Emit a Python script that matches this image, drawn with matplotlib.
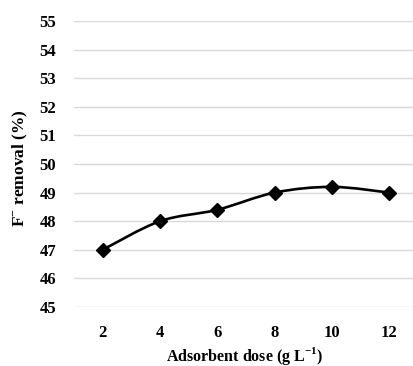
import matplotlib
matplotlib.use("Agg")
import matplotlib.pyplot as plt
import numpy as np
from matplotlib.path import Path
from matplotlib.patches import PathPatch

# data
dose = [2, 4, 6, 8, 10, 12]
removal = [47.0, 48.0, 48.4, 49.0, 49.2, 49.0]
y_ticks = list(range(45, 56))

plt.rcParams["font.family"] = ["Liberation Serif", "DejaVu Serif"]
plt.rcParams["mathtext.fontset"] = "custom"
plt.rcParams["mathtext.rm"] = "Liberation Serif:bold"
plt.rcParams["mathtext.bf"] = "Liberation Serif:bold"


def smooth_path(xs, ys, t=1 / 6):
    """Excel-style smoothed line: cubic Bezier through every point."""
    pts = np.column_stack([xs, ys]).astype(float)
    verts = [pts[0]]
    codes = [Path.MOVETO]
    n = len(pts)
    for i in range(n - 1):
        p0 = pts[max(i - 1, 0)]
        p1 = pts[i]
        p2 = pts[i + 1]
        p3 = pts[min(i + 2, n - 1)]
        c1 = p1 + (p2 - p0) * t
        c2 = p2 - (p3 - p1) * t
        verts += [c1, c2, p2]
        codes += [Path.CURVE4] * 3
    return Path(verts, codes)


fig = plt.figure(figsize=(4.14, 3.66), dpi=100)
ax = fig.add_axes([74 / 414, 59 / 366, 344 / 414, 286 / 366])

ax.add_patch(PathPatch(smooth_path(dose, removal), fill=False,
                       edgecolor="black", linewidth=1.9, zorder=3))
ax.plot(dose, removal, linestyle="none", marker="D", markersize=7,
        color="black", zorder=4)

ax.set_xlim(1, 13)
ax.set_ylim(45, 55)
ax.set_xticks(dose)
ax.set_yticks(y_ticks)
ax.tick_params(axis="x", length=0, labelsize=12, pad=13)
ax.tick_params(axis="y", length=0, labelsize=12, pad=13)
for lab in ax.get_xticklabels() + ax.get_yticklabels():
    lab.set_fontweight("bold")

ax.grid(axis="y", color="#d9d9d9", linewidth=1)
ax.set_axisbelow(True)
for s in ax.spines.values():
    s.set_visible(False)

# axis titles placed in figure fractions (from bottom-left)
fig.text(245 / 414, 10 / 366, "Adsorbent dose (g L$^{\\mathbf{-1}}$)",
         fontsize=11.5, fontweight="bold", ha="center", va="center")
fig.text(20 / 414, 198 / 366, "F$^{\\mathbf{-}}$ removal (%)",
         fontsize=12.5, fontweight="bold", ha="center", va="center",
         rotation=90)

fig.savefig("out.png", dpi=100)
